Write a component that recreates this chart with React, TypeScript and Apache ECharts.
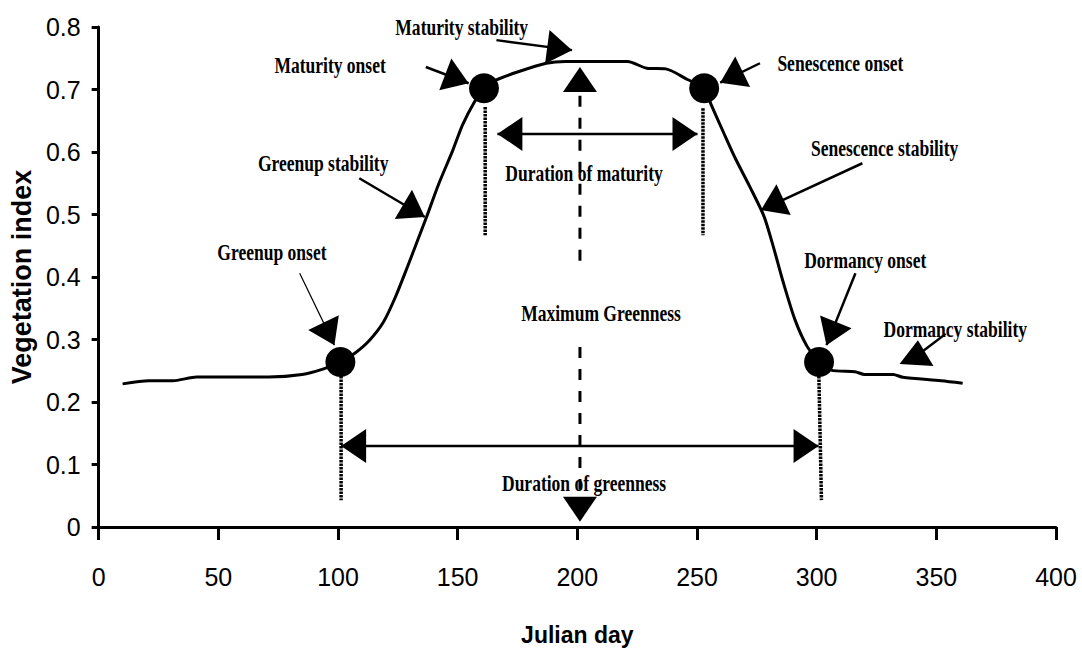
import React, { useEffect, useRef } from 'react';
import * as echarts from 'echarts';

// NDVI curve (Julian day, vegetation index)
const days = [10, 21, 31, 41, 71, 85, 94, 101, 107, 113, 119, 124, 129, 133, 137, 142, 148, 152, 157, 161, 166, 175, 187, 195, 221, 229, 237, 246, 253, 256, 261, 266, 272, 278, 282, 286, 291, 296, 301, 306, 316, 320, 332, 336, 352, 361];
const vegIndex = [0.229, 0.234, 0.234, 0.24, 0.24, 0.244, 0.253, 0.264, 0.278, 0.298, 0.328, 0.368, 0.416, 0.456, 0.496, 0.548, 0.603, 0.643, 0.68, 0.702, 0.715, 0.728, 0.742, 0.745, 0.745, 0.734, 0.733, 0.716, 0.702, 0.675, 0.632, 0.59, 0.545, 0.497, 0.447, 0.392, 0.331, 0.289, 0.264, 0.251, 0.2485, 0.244, 0.244, 0.2395, 0.234, 0.23];

// phenological transition dates
const onsetDays = [101, 161, 253, 301];
const onsetVI = [0.264, 0.702, 0.702, 0.264];

// annotation texts and anchors (data space)
const labelTexts = ['Maturity stability', 'Maturity onset', 'Senescence onset', 'Greenup stability', 'Senescence stability', 'Duration of maturity', 'Greenup onset', 'Dormancy onset', 'Maximum Greenness', 'Dormancy stability', 'Duration of greenness'];
const labelDays = [151.7, 96.7, 309.9, 93.8, 328.4, 202.8, 72.4, 320.3, 209.9, 357.9, 202.8];
const labelVI = [0.8, 0.739, 0.742, 0.582, 0.606, 0.566, 0.44, 0.427, 0.342, 0.317, 0.07];

// solid shafts: [x1, y1, x2, y2]
const shafts = [
  [136.7, 0.736, 154.6, 0.71],
  [166.2, 0.779, 197.8, 0.763],
  [108.9, 0.558, 136.3, 0.496],
  [276.3, 0.742, 259.7, 0.711],
  [319.1, 0.582, 276.7, 0.507],
  [316.2, 0.406, 304.1, 0.291],
  [343.9, 0.28, 353.9, 0.309],
  [101.3, 0.1296, 300.8, 0.1296],
  [166.6, 0.629, 250.2, 0.629],
];
const thinShafts = [[84.0, 0.406, 98.5, 0.291]];

// arrow heads: [tipX, tipY, fromX, fromY]
const heads = [
  [98.5, 0.291, 84.0, 0.406],
  [154.6, 0.71, 136.7, 0.736],
  [197.8, 0.763, 166.2, 0.779],
  [136.3, 0.496, 108.9, 0.558],
  [259.7, 0.711, 276.3, 0.742],
  [276.7, 0.507, 319.1, 0.582],
  [304.1, 0.291, 316.2, 0.406],
  [342.3, 0.299, 341.5, 0.245],
  [101.3, 0.1296, 200, 0.1296],
  [300.8, 0.1296, 200, 0.1296],
  [166.6, 0.629, 210, 0.629],
  [250.2, 0.629, 210, 0.629],
  [201.1, 0.736, 201.1, 0.5],
  [201.1, 0.0085, 201.1, 0.3],
];

// fine dotted verticals at transition dates
const dotted = [
  [101.3, 0.264, 101.3, 0.043],
  [161.5, 0.672, 161.5, 0.467],
  [252.5, 0.67, 252.5, 0.467],
  [300.8, 0.264, 302.0, 0.043],
];
// dashed maximum greenness line
const dashed = [
  [201.1, 0.69, 201.1, 0.421],
  [201.1, 0.288, 201.1, 0.06],
];

const sans = "'Liberation Sans', Arial, sans-serif";
const serif = "'Liberation Serif', 'Times New Roman', serif";

function segSeries(data: number[][], width: number, dash: number[] | null, z: number) {
  return {
    type: 'custom',
    coordinateSystem: 'cartesian2d',
    clip: false,
    z,
    silent: true,
    encode: { x: [0, 2], y: [1, 3] },
    data,
    renderItem: (params: any, api: any) => {
      const a = api.coord([api.value(0), api.value(1)]);
      const b = api.coord([api.value(2), api.value(3)]);
      return {
        type: 'line',
        shape: { x1: a[0], y1: a[1], x2: b[0], y2: b[1] },
        style: { stroke: '#000', lineWidth: width, lineDash: dash || undefined, fill: null },
      };
    },
  };
}

export default function App() {
  const ref = useRef<HTMLDivElement>(null);
  useEffect(() => {
    if (!ref.current) return;
    const chart = echarts.init(ref.current, null, { renderer: 'svg' });
    const option: any = {
      animation: false,
      backgroundColor: '#fff',
      grid: { left: 93, right: 26, top: 27, bottom: 127, containLabel: false },
      xAxis: {
        type: 'value', min: 0, max: 400, interval: 50,
        name: 'Julian day', nameLocation: 'middle', nameGap: 96,
        nameTextStyle: { fontFamily: sans, fontWeight: 'bold', fontSize: 23, color: '#000' },
        axisLine: { lineStyle: { color: '#000', width: 3 } },
        axisTick: { length: 13, lineStyle: { color: '#000', width: 3 } },
        axisLabel: { fontFamily: sans, fontSize: 25, color: '#000', margin: 37, lineHeight: 26 },
        splitLine: { show: false },
      },
      yAxis: {
        type: 'value', min: 0, max: 0.8, interval: 0.1,
        name: 'Vegetation index', nameLocation: 'middle', nameGap: 49,
        nameTextStyle: { fontFamily: sans, fontWeight: 'bold', fontSize: 27, color: '#000' },
        axisLine: { show: true, lineStyle: { color: '#000', width: 3 } },
        axisTick: { show: true, length: 7, lineStyle: { color: '#000', width: 3 } },
        axisLabel: { fontFamily: sans, fontSize: 25, color: '#000', margin: 18, formatter: (v: number) => (v === 0 ? '0' : v.toFixed(1)) },
        splitLine: { show: false },
      },
      series: [
        {
          type: 'line', data: days.map((d, i) => [d, vegIndex[i]]), smooth: 0.25,
          showSymbol: false, lineStyle: { color: '#000', width: 3 }, z: 2, silent: true,
        },
        {
          type: 'scatter', data: onsetDays.map((d, i) => [d, onsetVI[i]]), symbol: 'circle', symbolSize: 30,
          itemStyle: { color: '#000', opacity: 1 }, z: 3, silent: true,
        },
        segSeries(dotted, 3.5, [2.5, 1], 4),
        segSeries(dashed, 3, [11, 11], 4),
        segSeries(shafts, 2.5, null, 4),
        segSeries(thinShafts, 1.2, null, 4),
        {
          type: 'custom', coordinateSystem: 'cartesian2d', clip: false, z: 5, silent: true,
          encode: { x: [0, 2], y: [1, 3] }, data: heads,
          renderItem: (params: any, api: any) => {
            const tip = api.coord([api.value(0), api.value(1)]);
            const from = api.coord([api.value(2), api.value(3)]);
            const dx = tip[0] - from[0], dy = tip[1] - from[1];
            const len = Math.hypot(dx, dy) || 1;
            const ux = dx / len, uy = dy / len;
            const L = 25, W = 17;
            const bx = tip[0] - ux * L, by = tip[1] - uy * L;
            const nx = -uy, ny = ux;
            return {
              type: 'polygon',
              shape: { points: [[tip[0], tip[1]], [bx + nx * W, by + ny * W], [bx - nx * W, by - ny * W]] },
              style: { fill: '#000' },
            };
          },
        },
        {
          type: 'custom', coordinateSystem: 'cartesian2d', clip: false, z: 6, silent: true,
          data: labelDays.map((d, i) => [d, labelVI[i]]),
          renderItem: (params: any, api: any) => {
            const p = api.coord([api.value(0), api.value(1)]);
            return {
              type: 'text', x: p[0], y: p[1], scaleX: 0.73,
              style: {
                text: labelTexts[params.dataIndex], x: 0, y: 0,
                fontFamily: serif, fontWeight: 'bold', fontSize: 24, fill: '#000',
                align: 'center', verticalAlign: 'middle',
              },
            };
          },
        },
      ],
    };
    chart.setOption(option);
    return () => chart.dispose();
  }, []);
  return <div ref={ref} style={{ position: 'fixed', left: 0, top: 0, width: 1082, height: 654, background: '#fff' }} />;
}
